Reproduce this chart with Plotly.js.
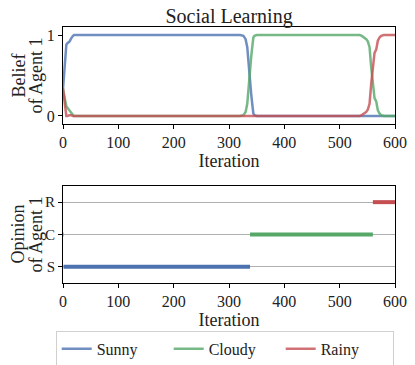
<!DOCTYPE html>
<html>
<head>
<meta charset="utf-8">
<script src="https://cdn.plot.ly/plotly-3.0.1.min.js"></script>
<style>html,body{margin:0;padding:0;background:#fff;}#chart{width:415px;height:365px;}</style>
</head>
<body>
<div id="chart"></div>
<script>
// Belief of Agent 1 (sampled iterations)
const iterations = [0,2,4,6,8,10,12,14,16,18,20,50,100,200,300,320,326,330,333,336,338,340,342,344,346,350,400,500,530,536,540,545,548,551,554,557,560,563,566,569,572,575,580,600];
const beliefSunny = [0.33,0.55,0.75,0.88,0.9,0.91,0.92,0.95,0.98,0.99,1,1,1,1,1,1,0.99,0.95,0.85,0.6,0.35,0.28,0.15,0.03,0.01,0,0,0,0,0,0,0,0,0,0,0,0,0,0,0,0,0,0,0];
const beliefCloudy = [0.33,0.25,0.2,0.12,0.1,0.08,0.07,0.04,0.02,0.01,0,0,0,0,0,0,0.01,0.05,0.15,0.4,0.65,0.72,0.85,0.97,0.99,1,1,1,1,1,0.99,0.97,0.95,0.92,0.85,0.6,0.4,0.22,0.18,0.07,0.03,0.01,0,0];
const beliefRainy = [0.34,0.2,0.05,0,0,0.01,0.01,0.01,0,0,0,0,0,0,0,0,0,0,0,0,0,0,0,0,0,0,0,0,0,0,0.01,0.03,0.05,0.08,0.15,0.4,0.6,0.78,0.82,0.93,0.97,0.99,1,1];

// Opinion of Agent 1 (0 = S, 1 = C, 2 = R)
const opinionSunnyX = [1, 338];
const opinionSunnyY = [0, 0];
const opinionCloudyX = [0, 1, null, 338, 560];
const opinionCloudyY = [1, 1, null, 1, 1];
const opinionRainyX = [560, 600];
const opinionRainyY = [2, 2];
const opinionTickVals = [0, 1, 2];
const opinionTickText = ['S', 'C', 'R'];

const names = ['Sunny', 'Cloudy', 'Rainy'];
const colors = ['#4C72B0', '#55A868', '#C44E52'];
const font = "'Liberation Serif', 'Times New Roman', serif";

const beliefs = [beliefSunny, beliefCloudy, beliefRainy];
const traces = [];
beliefs.forEach((b, i) => {
  traces.push({x: iterations, y: b, type: 'scatter', mode: 'lines', name: names[i],
    line: {color: colors[i], width: 2.5}, opacity: 0.8, xaxis: 'x', yaxis: 'y', showlegend: true});
});
const ox = [opinionSunnyX, opinionCloudyX, opinionRainyX];
const oy = [opinionSunnyY, opinionCloudyY, opinionRainyY];
ox.forEach((x, i) => {
  traces.push({x: x, y: oy[i], type: 'scatter', mode: 'lines', name: names[i],
    line: {color: colors[i], width: 4}, xaxis: 'x2', yaxis: 'y2', showlegend: false, connectgaps: false});
});

const axBase = {showline: true, linecolor: '#000', linewidth: 1, mirror: true, ticks: 'outside',
  ticklen: 4, tickcolor: '#000', tickwidth: 1, zeroline: false, showgrid: false,
  tickfont: {family: font, size: 16, color: '#222'}};

const yTitleFont = {family: font, size: 18, color: '#222'};
function yTitle(text, x, y) {
  return {text: text, xref: 'paper', yref: 'paper', x: x, y: y, xanchor: 'center', yanchor: 'middle',
    textangle: -90, showarrow: false, font: yTitleFont};
}

const layout = {
  width: 415, height: 365,
  margin: {l: 63, r: 20, t: 27, b: 82, autoexpand: false},
  paper_bgcolor: '#fff', plot_bgcolor: '#fff',
  font: {family: font, color: '#222'},
  title: {text: 'Social Learning', font: {family: font, size: 20, color: '#222'}, x: 0.552, xanchor: 'center', y: 0.955, yanchor: 'middle'},
  xaxis: Object.assign({}, axBase, {domain: [0, 1], range: [0, 600], tickvals: [0,100,200,300,400,500,600], anchor: 'y',
    title: {text: 'Iteration', font: {family: font, size: 18, color: '#222'}, standoff: 0}}),
  yaxis: Object.assign({}, axBase, {domain: [0.621, 1], range: [-0.1, 1.1], tickvals: [0, 1], anchor: 'x'}),
  xaxis2: Object.assign({}, axBase, {domain: [0, 1], range: [0, 600], tickvals: [0,100,200,300,400,500,600], anchor: 'y2',
    title: {text: 'Iteration', font: {family: font, size: 18, color: '#222'}, standoff: 0}}),
  yaxis2: Object.assign({}, axBase, {domain: [0, 0.379], range: [-0.5, 2.5], tickvals: opinionTickVals, ticktext: opinionTickText, anchor: 'x2',
    showgrid: true, gridcolor: '#b0b0b0', gridwidth: 1,
    tickfont: {family: font, size: 15, color: '#222'}}),
  annotations: [
    yTitle('Belief', -0.1355, 0.8105),
    yTitle('of Agent 1', -0.0813, 0.8105),
    yTitle('Opinion', -0.1355, 0.1895),
    yTitle('of Agent 1', -0.0813, 0.1895)
  ],
  legend: {orientation: 'h', xref: 'paper', yref: 'paper', x: -0.022, xanchor: 'left', y: -0.187, yanchor: 'top',
    bgcolor: '#fff', bordercolor: '#d0d0d0', borderwidth: 1, font: {family: font, size: 16, color: '#222'},
    entrywidth: 67, entrywidthmode: 'pixels'},
  showlegend: true
};

Plotly.newPlot('chart', traces, layout, {displayModeBar: false, staticPlot: true});
</script>
</body>
</html>
